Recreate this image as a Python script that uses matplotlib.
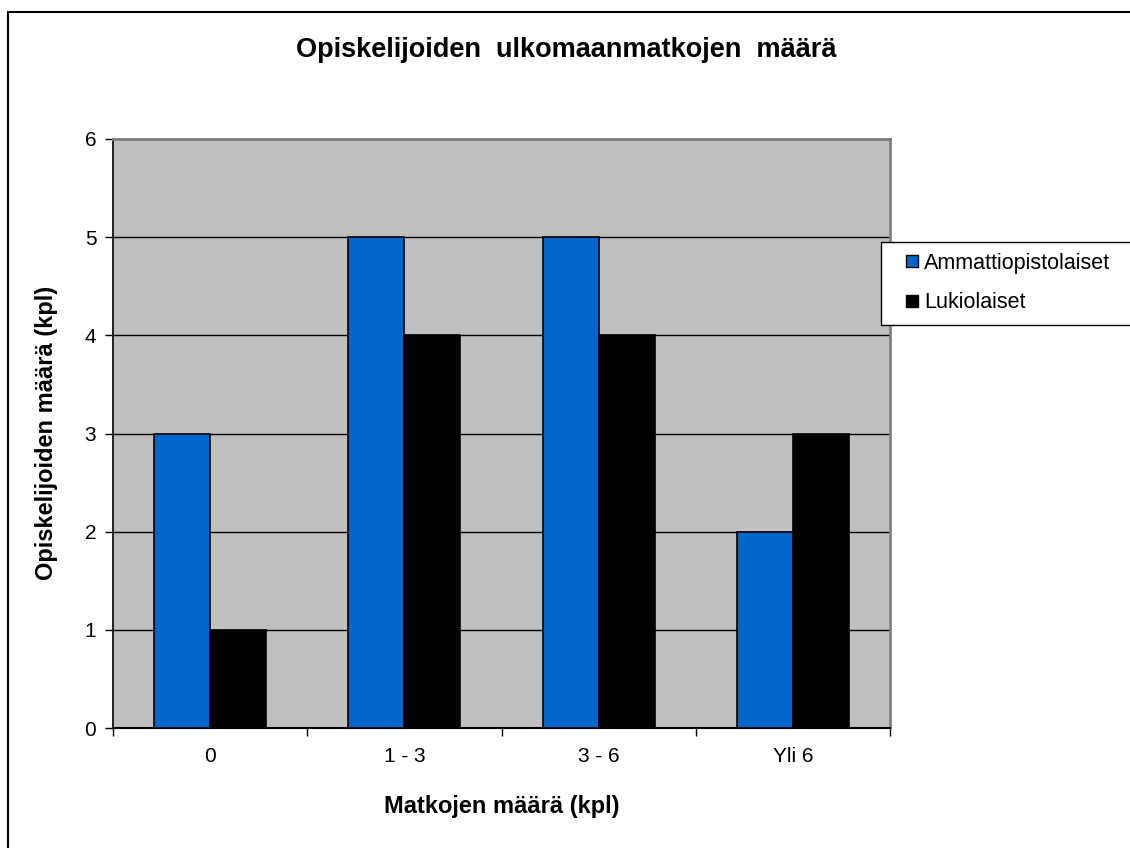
import matplotlib
matplotlib.use("Agg")
import matplotlib.pyplot as plt
import numpy as np
from matplotlib.patches import Rectangle
from matplotlib.lines import Line2D

categories = ["0", "1 - 3", "3 - 6", "Yli 6"]
ammattiopistolaiset = [3, 5, 5, 2]
lukiolaiset = [1, 4, 4, 3]
series_names = ["Ammattiopistolaiset", "Lukiolaiset"]
title = "Opiskelijoiden  ulkomaanmatkojen  määrä"
xlabel = "Matkojen määrä (kpl)"
ylabel = "Opiskelijoiden määrä (kpl)"

plt.rcParams['font.family'] = ['Liberation Sans', 'DejaVu Sans']

fig = plt.figure(figsize=(11.3, 8.48), dpi=100)
fig.patches.append(Rectangle((8/1130, -0.01), 1.2, 1 - 12/848 + 0.01, transform=fig.transFigure,
                             fill=False, edgecolor='black', linewidth=1.5, zorder=0))

ax = fig.add_axes([113/1130, 1 - 728/848, (890 - 113)/1130, (728 - 139)/848])
ax.set_facecolor('#C0C0C0')

x = np.arange(len(categories))
w = 0.288
ax.bar(x - w/2, ammattiopistolaiset, width=w, color='#0066CC', edgecolor='black', linewidth=1.2, zorder=3)
ax.bar(x + w/2, lukiolaiset, width=w, color='black', edgecolor='black', linewidth=1.2, zorder=3)

ax.set_xlim(-0.5, len(categories) - 0.5)
ax.set_ylim(0, 6)
ax.set_yticks(range(0, 7))
ax.yaxis.grid(True, color='black', linewidth=1.0, zorder=1)
ax.set_axisbelow(True)

ax.set_xticks(x)
ax.set_xticklabels(categories, fontsize=15)
ax.tick_params(axis='x', length=0, pad=14)
ax.set_xticks(np.arange(len(categories) + 1) - 0.5, minor=True)
ax.tick_params(axis='x', which='minor', length=6, direction='out', width=1)
ax.tick_params(axis='y', length=6, direction='out', width=1, labelsize=15, pad=6)

for s in ['top', 'right']:
    ax.spines[s].set_color('#808080')
    ax.spines[s].set_linewidth(2)
ax.spines['left'].set_color('black')
ax.spines['bottom'].set_color('black')
ax.spines['left'].set_linewidth(1.2)
ax.spines['bottom'].set_linewidth(1.5)

fig.text(566/1130, 1 - 50/848, title, ha='center', va='center', fontsize=19.5, fontweight='bold')
fig.text(502/1130, 1 - 806/848, xlabel, ha='center', va='center', fontsize=17, fontweight='bold')
fig.text(47/1130, 1 - 433/848, ylabel, ha='center', va='center', rotation=90, fontsize=17, fontweight='bold')

# legend frame (extends past right edge as in the reference)
fig.patches.append(Rectangle((881/1130, 1 - 325/848), 260/1130, 83/848, transform=fig.transFigure,
                             facecolor='white', edgecolor='black', linewidth=1.0, zorder=5))

handles = [Line2D([], [], marker='s', linestyle='none', markersize=9, markerfacecolor='#0066CC', markeredgecolor='black'),
           Line2D([], [], marker='s', linestyle='none', markersize=9, markerfacecolor='black', markeredgecolor='black')]
leg = fig.legend(handles, series_names, loc='upper left', bbox_to_anchor=(896/1130, 1 - 242/848),
                 fontsize=15.5, frameon=False,
                 handlelength=0.5, handletextpad=0.3, labelspacing=0.85, borderpad=0.5, borderaxespad=0)
leg.set_zorder(6)

fig.savefig("out.png", dpi=100)
